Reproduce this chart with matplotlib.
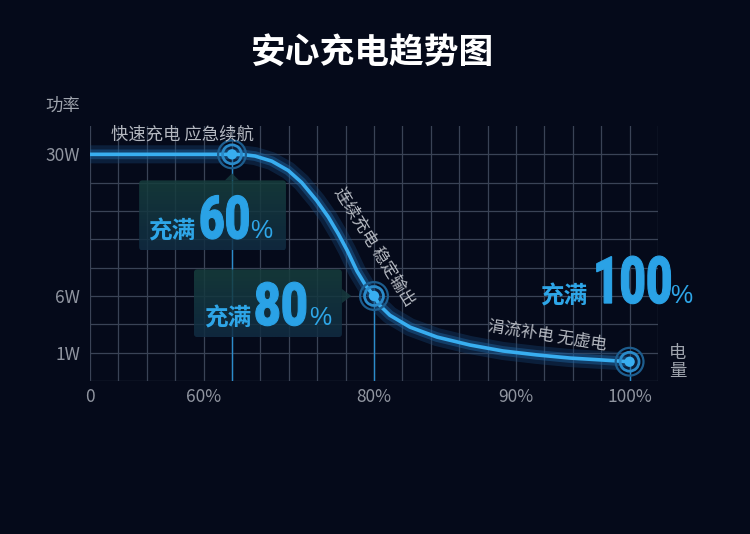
import matplotlib
matplotlib.use('Agg')
import matplotlib.pyplot as plt
from matplotlib.patches import FancyBboxPatch, Polygon, PathPatch
from matplotlib.textpath import TextPath
from matplotlib.font_manager import FontProperties
from matplotlib.transforms import Affine2D, ScaledTranslation
from matplotlib.colors import LinearSegmentedColormap
import numpy as np

plt.rcParams['font.family'] = ['Noto Sans CJK SC', 'DejaVu Sans']

# grid units: x 0..20, y 0..9
charge_ticks = [0, 4, 10, 15, 19]
charge_labels = ['0', '60%', '80%', '90%', '100%']
power_ticks = [1, 3, 8]
power_labels = ['1W', '6W', '30W']

curve_x = [0, 4.5, 5.0, 5.4, 5.81, 6.4, 6.98, 7.45, 7.98, 8.39, 8.74, 9.05,
           9.4, 9.7, 10.0, 10.21, 10.56, 11.27, 12.22, 13.38, 14.54, 15.74,
           16.9, 18.06, 19.0]
curve_y = [8.0, 8.0, 8.0, 7.99, 7.94, 7.76, 7.43, 7.01, 6.37, 5.79, 5.2, 4.62,
           3.88, 3.38, 3.0, 2.66, 2.32, 1.9, 1.55, 1.27, 1.06, 0.92,
           0.81, 0.74, 0.68]

marker_x = [5.0, 10.0, 19.0]
marker_y = [8.0, 3.0, 0.68]
full_labels = ['60', '80', '100']

bg = '#050a1a'
blue = '#38aef0'
note_color = '#b4b8c0'

fig = plt.figure(figsize=(7.5, 5.34), dpi=100, facecolor=bg)
ax = fig.add_axes([90 / 750, (534 - 381) / 534, (658 - 90) / 750, (381 - 126) / 534])
ax.set_facecolor(bg)
ax.set_xlim(0, 20)
ax.set_ylim(0, 9)
ax.set_autoscale_on(False)
for s in ax.spines.values():
    s.set_visible(False)

for gx in range(21):
    ax.plot([gx, gx], [0, 9], color='#3a4356', lw=0.9, zorder=1)
for gy in range(9):
    ax.plot([0, 20], [gy, gy], color='#3a4356', lw=0.9, zorder=1)

ax.set_xticks(charge_ticks)
ax.set_xticklabels(charge_labels)
ax.set_yticks(power_ticks)
ax.set_yticklabels(power_labels)
ax.tick_params(length=0, colors='#9095a0', labelsize=12.5)
ax.tick_params(axis='x', pad=5)
ax.tick_params(axis='y', pad=7)

# guide lines from markers to the axis
for mx, my in zip(marker_x, marker_y):
    ax.plot([mx, mx], [0, my], color='#2b8ccc', lw=1, zorder=2)

box_cmap = LinearSegmentedColormap.from_list('box', ['#173f3d', '#112d44'])


def box(x0, y0, x1, y1, tri):
    p = FancyBboxPatch((x0, y0), x1 - x0, y1 - y0,
                       boxstyle='round,pad=0,rounding_size=0.12',
                       fc='none', ec='none', zorder=3)
    ax.add_patch(p)
    grad = np.linspace(0, 1, 64).reshape(-1, 1)
    im = ax.imshow(grad, extent=(x0, x1, y0, y1), origin='upper', aspect='auto',
                   cmap=box_cmap, alpha=0.85, zorder=3)
    im.set_clip_path(p)
    ax.add_patch(Polygon(tri, closed=True, fc='#163a3e', ec='none', alpha=0.85, zorder=3))


box(1.73, 4.61, 6.9, 7.08, [[4.75, 7.08], [5.0, 7.33], [5.25, 7.08]])
box(3.66, 1.55, 8.87, 3.94, [[8.87, 3.25], [9.2, 3.0], [8.87, 2.75]])
ax.set_xlim(0, 20)
ax.set_ylim(0, 9)

# glowing curve
ax.plot(curve_x, curve_y, color='#18497a', lw=13, alpha=0.35, solid_capstyle='round',
        solid_joinstyle='round', zorder=4)
ax.plot(curve_x, curve_y, color='#1d64a0', lw=7, alpha=0.45, solid_capstyle='round',
        solid_joinstyle='round', zorder=4)
ax.plot(curve_x, curve_y, color=blue, lw=2.6, solid_capstyle='round',
        solid_joinstyle='round', zorder=5)

# ring markers
ax.scatter(marker_x, marker_y, s=400, facecolor='none', edgecolor='#1d5d8e', lw=1.6, zorder=6)
ax.scatter(marker_x, marker_y, s=185, facecolor='none', edgecolor='#2a8ac9', lw=2.0, zorder=7)
ax.scatter(marker_x, marker_y, s=55, facecolor=blue, edgecolor='none', zorder=8)


def condensed(x, y, s, size, sx, color):
    # condensed heavy digits: squeeze a bold face horizontally
    fp = FontProperties(family='Roboto', weight='black')
    path = TextPath((0, 0), s, size=size, prop=fp)
    tr = (Affine2D().scale(sx / 72, 1 / 72) + fig.dpi_scale_trans
          + ScaledTranslation(x, y, ax.transData))
    ax.add_patch(PathPatch(path, transform=tr, fc=color, ec=color, lw=0.8,
                           zorder=9, clip_on=False))


# "充满xx%" labels
label_pos = [(2.04, 5.03, 3.84, 5.64), (4.01, 1.97, 5.77, 7.72), (15.85, 2.75, 17.71, 20.42)]
num_size = [43, 43, 47]
num_sx = [0.74, 0.78, 0.7]
for (tx, ty, nx, px), lab, ns, sx in zip(label_pos, full_labels, num_size, num_sx):
    ax.text(tx, ty, '充满', color='#2ea6e8', fontsize=17, fontweight='bold',
            va='baseline', ha='left', zorder=9, clip_on=False)
    condensed(nx, ty, lab, ns, sx, '#2aa2e6')
    ax.text(px, ty, '%', color='#2ea6e8', fontsize=18, family='Liberation Sans',
            va='baseline', ha='left', zorder=9, clip_on=False)

# stage notes
ax.text(0.74, 8.38, '快速充电 应急续航', color=note_color, fontsize=12.5,
        ha='left', va='bottom', zorder=9, clip_on=False)
ax.text(10.0, 4.75, '连续充电 稳定输出', color=note_color, fontsize=12,
        rotation=-58, rotation_mode='anchor', ha='center', va='center', zorder=9)
ax.text(16.1, 1.6, '涓流补电 无虚电', color=note_color, fontsize=12,
        rotation=-9, rotation_mode='anchor', ha='center', va='center', zorder=9)

fig.text(63 / 750, 1 - 106 / 534, '功率', color='#a0a5ae', fontsize=12.5, ha='center', va='center')
fig.text(678 / 750, 1 - 362 / 534, '电\n量', color='#a0a5ae', fontsize=12.5,
         ha='center', va='center', linespacing=0.95)
fig.text(373 / 750, 1 - 52 / 534, '安心充电趋势图', color='white', fontsize=25,
         fontweight='bold', ha='center', va='center')

fig.savefig('out.png', dpi=100, facecolor=bg)
